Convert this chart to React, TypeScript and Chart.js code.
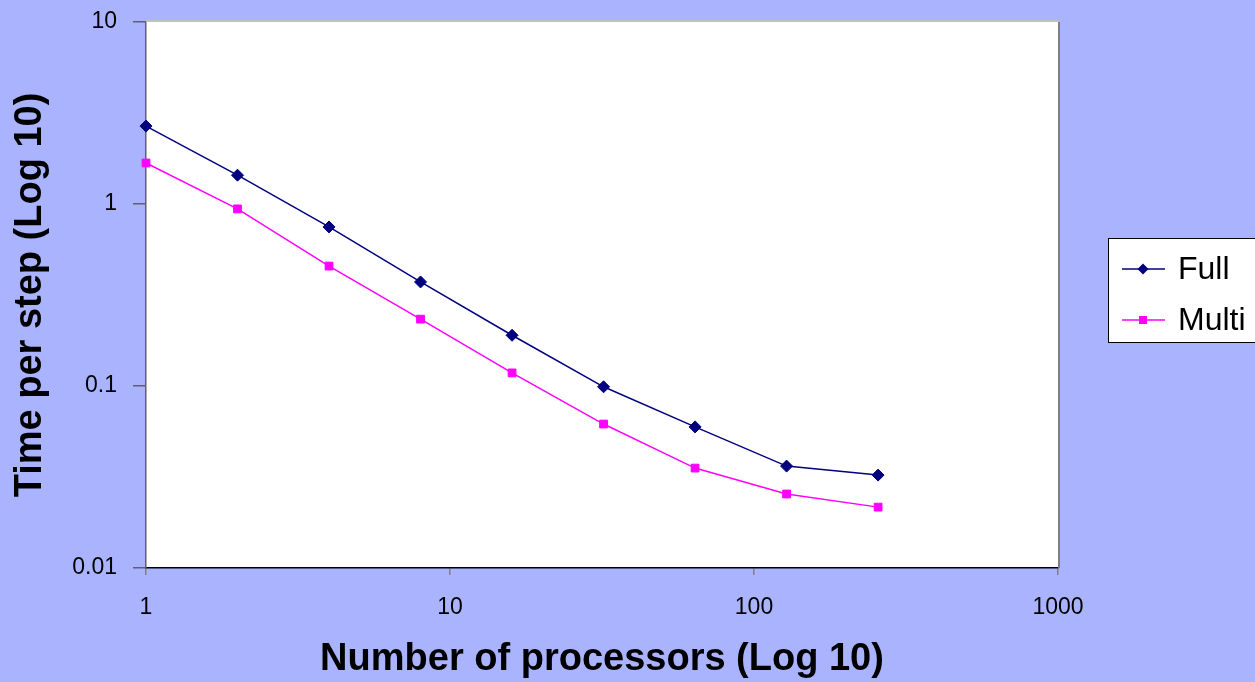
import React, { useEffect, useRef } from "react";
import { Chart, registerables } from "chart.js";

Chart.register(...registerables);

const processors = [1, 2, 4, 8, 16, 32, 64, 128, 256];
const fullTimes = [2.68, 1.44, 0.748, 0.373, 0.19, 0.099, 0.0596, 0.0363, 0.0324];
const multiTimes = [1.68, 0.94, 0.456, 0.233, 0.118, 0.0618, 0.0354, 0.0255, 0.0216];
const xTicks = [1, 10, 100, 1000];
const yTicks = [0.01, 0.1, 1, 10];
const seriesNames = ["Full", "Multi"];
const xTitle = "Number of processors (Log 10)";
const yTitle = "Time per step (Log 10)";

const BG = "#AAB4FE";
const FONT = "'Liberation Sans', Arial, sans-serif";
const FULL_COLOR = "#000080";
const MULTI_COLOR = "#FF00FF";

const plotBg = {
  id: "plotBg",
  beforeDraw(chart: any) {
    const { ctx, chartArea: a } = chart;
    ctx.save();
    ctx.fillStyle = "#FFFFFF";
    ctx.fillRect(a.left, a.top, a.right - a.left, a.bottom - a.top);
    ctx.restore();
  },
  afterDraw(chart: any) {
    const { ctx, chartArea: a } = chart;
    ctx.save();
    ctx.lineWidth = 2;
    ctx.strokeStyle = "#C0C0C0";
    ctx.beginPath();
    ctx.moveTo(a.left, a.top - 1);
    ctx.lineTo(a.right + 1, a.top - 1);
    ctx.stroke();
    ctx.strokeStyle = "#808080";
    ctx.beginPath();
    ctx.moveTo(a.right + 1, a.top);
    ctx.lineTo(a.right + 1, a.bottom);
    ctx.stroke();
    ctx.restore();
  },
};

const legendBox = {
  id: "legendBox",
  afterDraw(chart: any) {
    const { ctx } = chart;
    ctx.save();
    const x0 = 1108.5, y0 = 238.5, w = 160, h = 104;
    ctx.fillStyle = "#FFFFFF";
    ctx.fillRect(x0, y0, w, h);
    ctx.strokeStyle = "#000000";
    ctx.lineWidth = 1;
    ctx.strokeRect(x0, y0, w, h);
    const rows = [269, 320];
    chart.data.datasets.forEach((ds: any, i: number) => {
      const y = rows[i];
      ctx.strokeStyle = ds.borderColor;
      ctx.lineWidth = 1.5;
      ctx.beginPath();
      ctx.moveTo(1122, y);
      ctx.lineTo(1165, y);
      ctx.stroke();
      ctx.fillStyle = ds.pointBackgroundColor;
      if (ds.pointStyle === "rectRot") {
        const r = 5.5;
        ctx.beginPath();
        ctx.moveTo(1143 - r, y);
        ctx.lineTo(1143, y - r);
        ctx.lineTo(1143 + r, y);
        ctx.lineTo(1143, y + r);
        ctx.closePath();
        ctx.fill();
      } else {
        ctx.fillRect(1143 - 4, y - 4, 8, 8);
      }
      ctx.fillStyle = "#000000";
      ctx.font = `32px ${FONT}`;
      ctx.textBaseline = "middle";
      ctx.textAlign = "left";
      ctx.fillText(ds.label, 1178, y + 1);
    });
    ctx.restore();
  },
};

export default function App() {
  const ref = useRef<HTMLCanvasElement | null>(null);
  useEffect(() => {
    if (!ref.current) return;
    const chart = new Chart(ref.current, {
      type: "line",
      data: {
        datasets: [
          {
            label: seriesNames[0],
            data: processors.map((p, i) => ({ x: p, y: fullTimes[i] })),
            borderColor: FULL_COLOR,
            backgroundColor: FULL_COLOR,
            pointBackgroundColor: FULL_COLOR,
            pointBorderColor: FULL_COLOR,
            pointStyle: "rectRot",
            pointRadius: 6,
            pointBorderWidth: 1,
            borderWidth: 1.5,
            clip: false,
          } as any,
          {
            label: seriesNames[1],
            data: processors.map((p, i) => ({ x: p, y: multiTimes[i] })),
            borderColor: MULTI_COLOR,
            backgroundColor: MULTI_COLOR,
            pointBackgroundColor: MULTI_COLOR,
            pointBorderColor: MULTI_COLOR,
            pointStyle: "rect",
            pointRadius: 5.5,
            pointBorderWidth: 1,
            borderWidth: 1.5,
            clip: false,
          } as any,
        ],
      },
      options: {
        animation: false,
        responsive: false,
        maintainAspectRatio: false,
        layout: { padding: { top: 22, right: 197, bottom: 0, left: 0 } },
        plugins: { legend: { display: false }, tooltip: { enabled: false } },
        scales: {
          x: {
            type: "logarithmic",
            min: 1,
            max: 1000,
            afterBuildTicks: (s: any) => {
              s.ticks = xTicks.map((v) => ({ value: v }));
            },
            afterFit: (s: any) => {
              s.height = 114;
              s.paddingLeft = 0;
              s.paddingRight = 0;
            },
            ticks: {
              callback: (v: any) => String(v),
              color: "#000000",
              font: { family: FONT, size: 23 },
              padding: 19,
              maxRotation: 0,
              autoSkip: false,
            },
            grid: { drawOnChartArea: false, drawTicks: true, tickLength: 7, color: "#808080", lineWidth: 1.5 },
            border: { display: true, color: "#000000", width: 1.5 },
            title: {
              display: true,
              text: xTitle,
              color: "#000000",
              font: { family: FONT, size: 38, weight: "bold" },
              padding: { top: -3, bottom: 0 },
            },
          },
          y: {
            type: "logarithmic",
            min: 0.01,
            max: 10,
            afterBuildTicks: (s: any) => {
              s.ticks = yTicks.map((v) => ({ value: v }));
            },
            afterFit: (s: any) => {
              s.width = 146;
              s.paddingTop = 0;
              s.paddingBottom = 0;
            },
            ticks: {
              callback: (v: any) => String(v),
              color: "#000000",
              font: { family: FONT, size: 23 },
              padding: 16,
              autoSkip: false,
            },
            grid: { drawOnChartArea: false, drawTicks: true, tickLength: 13, color: "#606060", lineWidth: 1.5 },
            border: { display: true, color: "#606060", width: 1.5 },
            title: {
              display: true,
              text: yTitle,
              color: "#000000",
              font: { family: FONT, size: 38, weight: "bold" },
              padding: { top: 8, bottom: 0 },
            },
          },
        },
      },
      plugins: [plotBg, legendBox],
    });
    return () => chart.destroy();
  }, []);
  return (
    <div style={{ position: "fixed", left: 0, top: 0, width: 1255, height: 682, background: BG }}>
      <canvas ref={ref} width={1255} height={682} style={{ display: "block" }} />
    </div>
  );
}
